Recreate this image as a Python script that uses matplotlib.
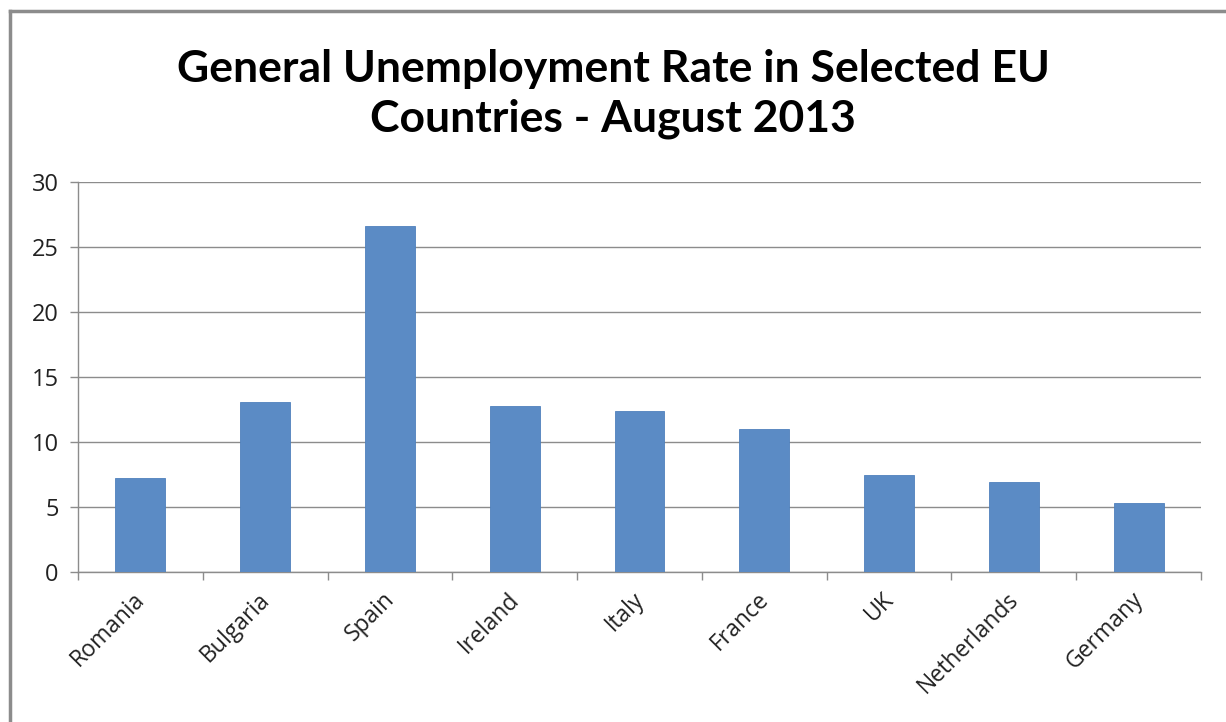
import matplotlib.pyplot as plt
import numpy as np
from matplotlib.lines import Line2D

countries = ["Romania", "Bulgaria", "Spain", "Ireland", "Italy", "France", "UK", "Netherlands", "Germany"]
rates = [7.25, 13.1, 26.6, 12.8, 12.4, 11.0, 7.45, 6.95, 5.3]
yticks = [0, 5, 10, 15, 20, 25, 30]

W, H = 1226, 722
fig = plt.figure(figsize=(W / 100, H / 100), dpi=100)
ax = fig.add_axes([78 / W, 1 - 572 / H, (1201 - 78) / W, (572 - 182) / H])

x = np.arange(len(countries))
ax.bar(x, rates, width=0.4, color="#5b8bc5", edgecolor="#4f81bd", linewidth=0.6, zorder=3)

ax.set_xlim(-0.5, len(countries) - 0.5)
ax.set_ylim(0, 30)
ax.set_yticks(yticks)
ax.yaxis.grid(True, color="#8c8c8c", linewidth=1)
ax.set_axisbelow(True)

# category boundary ticks on the x axis
ax.set_xticks(np.arange(len(countries) + 1) - 0.5)
ax.set_xticklabels([])
ax.tick_params(axis="x", length=6, color="#8c8c8c", width=1)
ax.tick_params(axis="y", length=6, color="#8c8c8c", width=1, labelsize=17, labelcolor="#222222", pad=8)
for lab in ax.get_yticklabels():
    lab.set_family("Open Sans")

for s in ["top", "right"]:
    ax.spines[s].set_visible(False)
for s in ["left", "bottom"]:
    ax.spines[s].set_color("#8c8c8c")
    ax.spines[s].set_linewidth(1)

for i, name in enumerate(countries):
    ax.text(i - 0.06, -1.2, name, rotation=45, ha="right", va="top", fontsize=16.5,
            family="Open Sans", color="#222222", rotation_mode="anchor")

fig.text(0.5, 1 - 94 / H, "General Unemployment Rate in Selected EU\nCountries - August 2013",
         ha="center", va="center", fontsize=32, fontweight="bold", family="Lato",
         linespacing=1.3)

# outer frame of the chart area
fig.add_artist(Line2D([10 / W, 10 / W], [0, 1 - 11 / H], color="#8c8c8c", linewidth=2.5,
                      transform=fig.transFigure))
fig.add_artist(Line2D([10 / W, 1], [1 - 11 / H, 1 - 11 / H], color="#8c8c8c", linewidth=2.5,
                      transform=fig.transFigure))

fig.savefig("out.png", dpi=100)
